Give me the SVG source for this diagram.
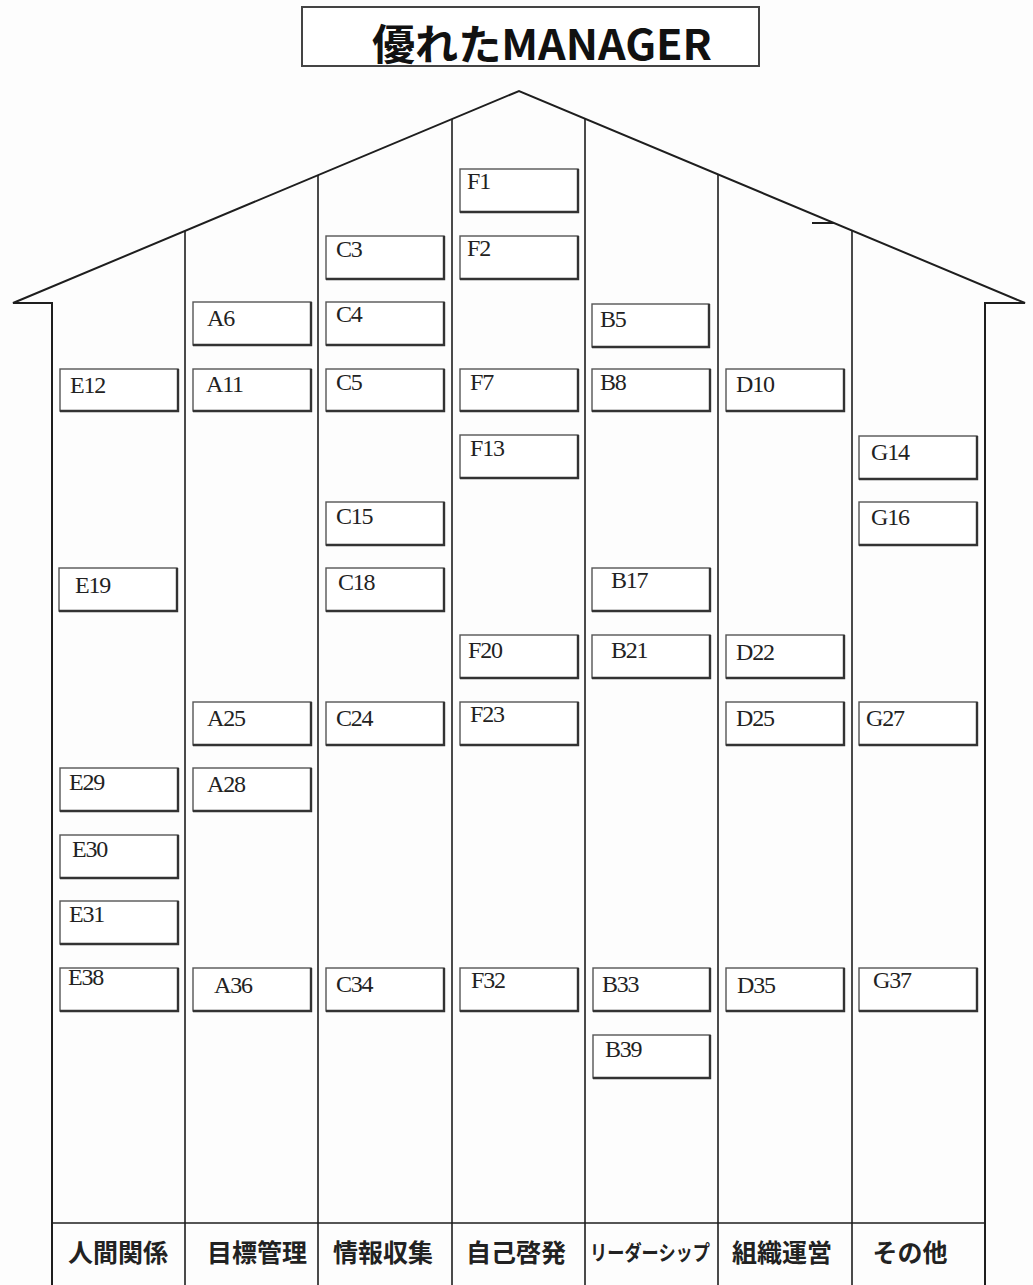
<svg xmlns="http://www.w3.org/2000/svg" width="1033" height="1285" viewBox="0 0 1033 1285">
<style>
.bg{fill:#fdfdfd}
.house{fill:none;stroke:#1e1e1e;stroke-width:2;stroke-linejoin:miter}
.col{fill:none;stroke:#1e1e1e;stroke-width:1.6}
.box{fill:#ffffff;stroke:#555;stroke-width:1.4}
.sh{fill:none;stroke:#333;stroke-width:2.4}
.lbl{font-family:"Liberation Serif","Times New Roman",serif;font-size:24px;letter-spacing:-1.2px;fill:#222}
.cat{font-family:"Noto Sans CJK JP","Noto Sans",sans-serif;font-size:25px;font-weight:bold;fill:#222;text-anchor:middle}
.cat.small{font-size:21px}
.title{font-family:"Noto Sans CJK JP","Noto Sans",sans-serif;font-size:42px;font-weight:bold;fill:#111;text-anchor:middle}
</style>
<rect class="bg" x="0" y="0" width="1033" height="1285"/>
<g id="title">
<rect x="302" y="7" width="457" height="59" fill="#fff" stroke="#444" stroke-width="2"/>
<text class="title" x="542" y="60" textLength="340" lengthAdjust="spacingAndGlyphs">優れたMANAGER</text>
</g>
<g id="house">
<polyline class="house" points="52,1285 52,303 13,303 519,91 1025,303 985,303 985,1285"/>
<line class="house" x1="812" y1="223" x2="834" y2="223"/>
<line class="col" x1="185" y1="231" x2="185" y2="1285"/>
<line class="col" x1="318" y1="175" x2="318" y2="1285"/>
<line class="col" x1="452" y1="119" x2="452" y2="1285"/>
<line class="col" x1="585" y1="119" x2="585" y2="1285"/>
<line class="col" x1="718" y1="175" x2="718" y2="1285"/>
<line class="col" x1="852" y1="231" x2="852" y2="1285"/>
<line class="col" x1="52" y1="1223" x2="985" y2="1223"/>
</g>
<g id="categories">
<text class="cat" x="118" y="1262">人間関係</text>
<text class="cat" x="257" y="1262">目標管理</text>
<text class="cat" x="383" y="1262">情報収集</text>
<text class="cat" x="516" y="1262">自己啓発</text>
<text class="cat small" x="650" y="1260" textLength="120" lengthAdjust="spacingAndGlyphs">リーダーシップ</text>
<text class="cat" x="782" y="1262">組織運営</text>
<text class="cat" x="910" y="1262">その他</text>
</g>
<g id="connectors"></g>
<g id="nodes">
<g id="F1"><rect class="box" x="460" y="169" width="118" height="43"/><polyline class="sh" points="460,212 578,212 578,169"/><text class="lbl" x="467" y="189">F1</text></g>
<g id="F2"><rect class="box" x="460" y="236" width="118" height="43"/><polyline class="sh" points="460,279 578,279 578,236"/><text class="lbl" x="467" y="256">F2</text></g>
<g id="C3"><rect class="box" x="326" y="236" width="118" height="43"/><polyline class="sh" points="326,279 444,279 444,236"/><text class="lbl" x="336" y="257">C3</text></g>
<g id="A6"><rect class="box" x="193" y="302" width="118" height="43"/><polyline class="sh" points="193,345 311,345 311,302"/><text class="lbl" x="207" y="326">A6</text></g>
<g id="C4"><rect class="box" x="326" y="302" width="118" height="43"/><polyline class="sh" points="326,345 444,345 444,302"/><text class="lbl" x="336" y="322">C4</text></g>
<g id="B5"><rect class="box" x="592" y="304" width="117" height="43"/><polyline class="sh" points="592,347 709,347 709,304"/><text class="lbl" x="600" y="327">B5</text></g>
<g id="E12"><rect class="box" x="60" y="369" width="118" height="42"/><polyline class="sh" points="60,411 178,411 178,369"/><text class="lbl" x="70" y="393">E12</text></g>
<g id="A11"><rect class="box" x="193" y="369" width="118" height="42"/><polyline class="sh" points="193,411 311,411 311,369"/><text class="lbl" x="206" y="392">A11</text></g>
<g id="C5"><rect class="box" x="326" y="369" width="118" height="42"/><polyline class="sh" points="326,411 444,411 444,369"/><text class="lbl" x="336" y="390">C5</text></g>
<g id="F7"><rect class="box" x="460" y="369" width="118" height="42"/><polyline class="sh" points="460,411 578,411 578,369"/><text class="lbl" x="470" y="390">F7</text></g>
<g id="B8"><rect class="box" x="592" y="369" width="118" height="42"/><polyline class="sh" points="592,411 710,411 710,369"/><text class="lbl" x="600" y="390">B8</text></g>
<g id="D10"><rect class="box" x="726" y="369" width="118" height="42"/><polyline class="sh" points="726,411 844,411 844,369"/><text class="lbl" x="736" y="392">D10</text></g>
<g id="F13"><rect class="box" x="460" y="435" width="118" height="43"/><polyline class="sh" points="460,478 578,478 578,435"/><text class="lbl" x="470" y="456">F13</text></g>
<g id="G14"><rect class="box" x="859" y="436" width="118" height="43"/><polyline class="sh" points="859,479 977,479 977,436"/><text class="lbl" x="871" y="460">G14</text></g>
<g id="C15"><rect class="box" x="326" y="502" width="118" height="43"/><polyline class="sh" points="326,545 444,545 444,502"/><text class="lbl" x="336" y="524">C15</text></g>
<g id="G16"><rect class="box" x="859" y="502" width="118" height="43"/><polyline class="sh" points="859,545 977,545 977,502"/><text class="lbl" x="871" y="525">G16</text></g>
<g id="E19"><rect class="box" x="59" y="568" width="118" height="43"/><polyline class="sh" points="59,611 177,611 177,568"/><text class="lbl" x="75" y="593">E19</text></g>
<g id="C18"><rect class="box" x="326" y="568" width="118" height="43"/><polyline class="sh" points="326,611 444,611 444,568"/><text class="lbl" x="338" y="590">C18</text></g>
<g id="B17"><rect class="box" x="592" y="568" width="118" height="43"/><polyline class="sh" points="592,611 710,611 710,568"/><text class="lbl" x="611" y="588">B17</text></g>
<g id="F20"><rect class="box" x="460" y="635" width="118" height="43"/><polyline class="sh" points="460,678 578,678 578,635"/><text class="lbl" x="468" y="658">F20</text></g>
<g id="B21"><rect class="box" x="592" y="635" width="118" height="43"/><polyline class="sh" points="592,678 710,678 710,635"/><text class="lbl" x="611" y="658">B21</text></g>
<g id="D22"><rect class="box" x="726" y="635" width="118" height="43"/><polyline class="sh" points="726,678 844,678 844,635"/><text class="lbl" x="736" y="660">D22</text></g>
<g id="A25"><rect class="box" x="193" y="702" width="118" height="43"/><polyline class="sh" points="193,745 311,745 311,702"/><text class="lbl" x="207" y="726">A25</text></g>
<g id="C24"><rect class="box" x="326" y="702" width="118" height="43"/><polyline class="sh" points="326,745 444,745 444,702"/><text class="lbl" x="336" y="726">C24</text></g>
<g id="F23"><rect class="box" x="460" y="702" width="118" height="43"/><polyline class="sh" points="460,745 578,745 578,702"/><text class="lbl" x="470" y="722">F23</text></g>
<g id="D25"><rect class="box" x="726" y="702" width="118" height="43"/><polyline class="sh" points="726,745 844,745 844,702"/><text class="lbl" x="736" y="726">D25</text></g>
<g id="G27"><rect class="box" x="859" y="702" width="118" height="43"/><polyline class="sh" points="859,745 977,745 977,702"/><text class="lbl" x="866" y="726">G27</text></g>
<g id="E29"><rect class="box" x="60" y="768" width="118" height="43"/><polyline class="sh" points="60,811 178,811 178,768"/><text class="lbl" x="69" y="790">E29</text></g>
<g id="A28"><rect class="box" x="193" y="768" width="118" height="43"/><polyline class="sh" points="193,811 311,811 311,768"/><text class="lbl" x="207" y="792">A28</text></g>
<g id="E30"><rect class="box" x="60" y="835" width="118" height="43"/><polyline class="sh" points="60,878 178,878 178,835"/><text class="lbl" x="72" y="857">E30</text></g>
<g id="E31"><rect class="box" x="60" y="901" width="118" height="43"/><polyline class="sh" points="60,944 178,944 178,901"/><text class="lbl" x="69" y="922">E31</text></g>
<g id="E38"><rect class="box" x="60" y="968" width="118" height="43"/><polyline class="sh" points="60,1011 178,1011 178,968"/><text class="lbl" x="68" y="985">E38</text></g>
<g id="A36"><rect class="box" x="193" y="968" width="118" height="43"/><polyline class="sh" points="193,1011 311,1011 311,968"/><text class="lbl" x="214" y="993">A36</text></g>
<g id="C34"><rect class="box" x="326" y="968" width="118" height="43"/><polyline class="sh" points="326,1011 444,1011 444,968"/><text class="lbl" x="336" y="992">C34</text></g>
<g id="F32"><rect class="box" x="460" y="968" width="118" height="43"/><polyline class="sh" points="460,1011 578,1011 578,968"/><text class="lbl" x="471" y="988">F32</text></g>
<g id="B33"><rect class="box" x="593" y="968" width="117" height="43"/><polyline class="sh" points="593,1011 710,1011 710,968"/><text class="lbl" x="602" y="992">B33</text></g>
<g id="D35"><rect class="box" x="726" y="968" width="118" height="43"/><polyline class="sh" points="726,1011 844,1011 844,968"/><text class="lbl" x="737" y="993">D35</text></g>
<g id="G37"><rect class="box" x="859" y="968" width="118" height="43"/><polyline class="sh" points="859,1011 977,1011 977,968"/><text class="lbl" x="873" y="988">G37</text></g>
<g id="B39"><rect class="box" x="593" y="1035" width="117" height="43"/><polyline class="sh" points="593,1078 710,1078 710,1035"/><text class="lbl" x="605" y="1057">B39</text></g>
</g>
</svg>
